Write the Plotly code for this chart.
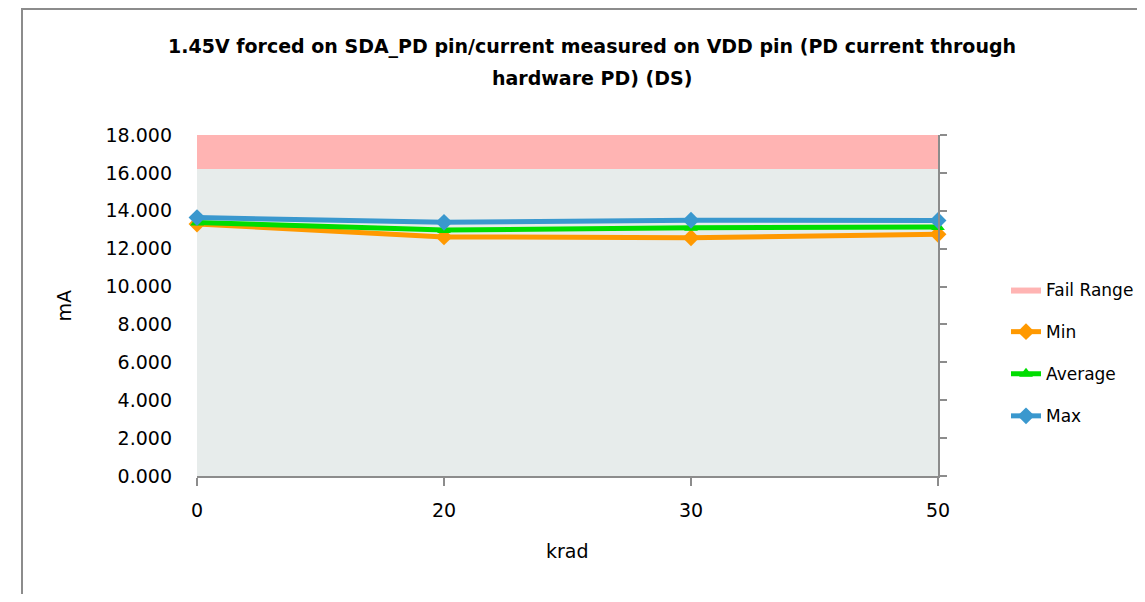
import plotly.graph_objects as go

krad = ["0", "20", "30", "50"]
min_vals = [13.30, 12.62, 12.58, 12.76]
avg_vals = [13.38, 12.98, 13.10, 13.14]
max_vals = [13.64, 13.39, 13.50, 13.49]
fail_low = 16.2
fail_high = 18.0
y_ticks = [0, 2, 4, 6, 8, 10, 12, 14, 16, 18]
title_lines = ["1.45V forced on SDA_PD pin/current measured on VDD pin (PD current through",
               "hardware PD) (DS)"]

# browser body margin offset (8px)
OFF = 8
W, H = 1145 - 2 * OFF, 602 - 2 * OFF
L, R, T, B = 197 - OFF, 938 - OFF, 135 - OFF, 476 - OFF
PW, PH = R - L, B - T


def px(x):
    return (x - OFF - L) / PW


def py(y):
    return (B - (y - OFF)) / PH


font = "DejaVu Sans"
fig = go.Figure()

fig.add_trace(go.Scatter(
    x=[krad[0], krad[-1], krad[-1], krad[0], krad[0]],
    y=[fail_low, fail_low, fail_high, fail_high, fail_low],
    fill="toself", fillcolor="#FFB4B3", line=dict(width=0, color="#FFB4B3"),
    mode="lines", name="Fail Range", legendgroup="a", hoverinfo="skip"))

series = [("Min", min_vals, "#FF9900", "diamond", "b", 13),
          ("Average", avg_vals, "#00DD00", "triangle-up", "c", 12),
          ("Max", max_vals, "#3A98CE", "diamond", "d", 13)]
for name, vals, col, sym, g, ms in series:
    fig.add_trace(go.Scatter(
        x=krad, y=vals, mode="lines+markers", name=name, legendgroup=g,
        line=dict(color=col, width=5), cliponaxis=False,
        marker=dict(symbol=sym, size=ms, color=col)))

# right-side axis line (ticks only)
fig.add_trace(go.Scatter(x=krad, y=[None] * 4, yaxis="y2", showlegend=False,
                         hoverinfo="skip"))

axis_col = "#8C8C8C"
annotations = [
    dict(text="<b>%s</b>" % line, x=px(592), y=py(yy), xref="paper", yref="paper",
         xanchor="center", yanchor="middle", showarrow=False,
         font=dict(size=19, family=font))
    for line, yy in zip(title_lines, [46, 78])
]
annotations += [
    dict(text="mA", x=px(63), y=0.5, xref="paper", yref="paper",
         xanchor="center", yanchor="middle",
         textangle=-90, showarrow=False, font=dict(size=19)),
    dict(text="krad", x=0.5, y=py(551), xref="paper", yref="paper",
         xanchor="center", yanchor="middle",
         showarrow=False, font=dict(size=19)),
]

fig.update_layout(
    width=W, height=H,
    margin=dict(l=L, r=W - R, t=T, b=H - B, autoexpand=False),
    paper_bgcolor="white",
    plot_bgcolor="#E7ECEB",
    font=dict(family=font, size=19, color="black"),
    xaxis=dict(type="category", categoryorder="array", categoryarray=krad,
               range=[0, 3], showgrid=False,
               showline=True, linecolor=axis_col, linewidth=2,
               ticks="outside", ticklen=8, tickcolor=axis_col, tickwidth=2,
               ticklabelstandoff=8, tickfont=dict(size=19), zeroline=False),
    yaxis=dict(range=[0, 18], tickvals=y_ticks, tickformat=".3f",
               showgrid=False, showline=False, ticks="", zeroline=False,
               ticklabelstandoff=24, tickfont=dict(size=19)),
    yaxis2=dict(range=[0, 18], tickvals=y_ticks, overlaying="y", side="right",
                showticklabels=False, showgrid=False, showline=True,
                linecolor=axis_col, linewidth=2, ticks="outside", ticklen=7,
                tickcolor=axis_col, tickwidth=2, zeroline=False),
    showlegend=True,
    legend=dict(x=px(1006), y=py(272),
                xanchor="left", yanchor="top", font=dict(size=17),
                traceorder="grouped", tracegroupgap=17,
                bgcolor="rgba(0,0,0,0)"),
    annotations=annotations,
    shapes=[dict(type="rect", xref="paper", yref="paper",
                 x0=px(22), x1=px(1170),
                 y0=py(640), y1=py(9),
                 line=dict(color="#8C8C8C", width=2), layer="below")],
)

fig.write_html("out.html")
